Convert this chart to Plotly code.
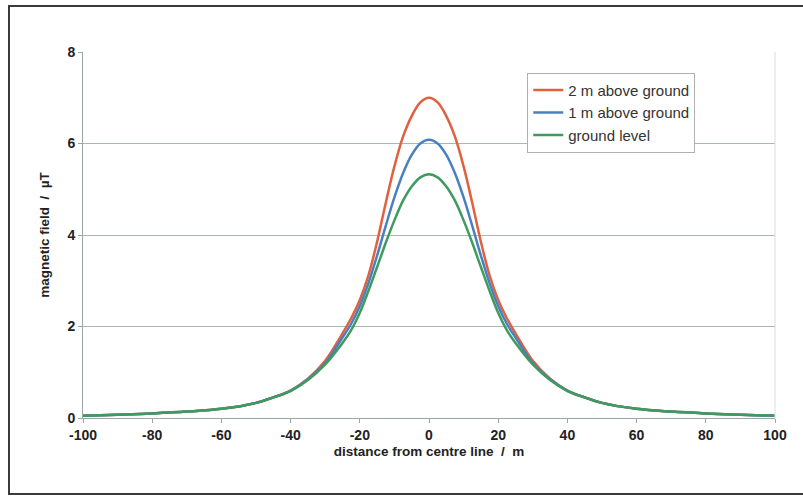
import plotly.graph_objects as go

distance = [-100, -90, -80, -70, -60, -50, -45, -40, -35, -30, -25, -22.5, -20, -17.5, -15, -12.5, -10, -7.5, -5, -2.5,
            0, 2.5, 5, 7.5, 10, 12.5, 15, 17.5, 20, 22.5, 25, 30, 35, 40, 45, 50, 60, 70, 80, 90, 100]

field_2m = [0.05, 0.07, 0.10, 0.14, 0.20, 0.33, 0.45, 0.60, 0.86, 1.25, 1.85, 2.18, 2.58, 3.12, 3.85, 4.70, 5.50, 6.15, 6.60, 6.90,
            7.00, 6.90, 6.60, 6.15, 5.50, 4.70, 3.85, 3.12, 2.58, 2.18, 1.85, 1.25, 0.86, 0.60, 0.45, 0.33, 0.20, 0.14, 0.10, 0.07, 0.05]

field_1m = [0.05, 0.07, 0.10, 0.14, 0.20, 0.33, 0.45, 0.60, 0.85, 1.20, 1.76, 2.06, 2.45, 2.95, 3.55, 4.20, 4.82, 5.35, 5.75, 6.00,
            6.08, 6.00, 5.75, 5.35, 4.82, 4.20, 3.55, 2.95, 2.45, 2.06, 1.76, 1.20, 0.85, 0.60, 0.45, 0.33, 0.20, 0.14, 0.10, 0.07, 0.05]

field_0m = [0.05, 0.07, 0.10, 0.14, 0.20, 0.33, 0.45, 0.59, 0.83, 1.17, 1.64, 1.92, 2.30, 2.78, 3.30, 3.83, 4.32, 4.75, 5.06, 5.26,
            5.33, 5.26, 5.06, 4.75, 4.32, 3.83, 3.30, 2.78, 2.30, 1.92, 1.64, 1.17, 0.83, 0.59, 0.45, 0.33, 0.20, 0.14, 0.10, 0.07, 0.05]

series = [
    ("2 m above ground", field_2m, "#e0603f"),
    ("1 m above ground", field_1m, "#4a7fc0"),
    ("ground level", field_0m, "#3f9a5e"),
]

x_ticks = [-100, -80, -60, -40, -20, 0, 20, 40, 60, 80, 100]
y_ticks = [0, 2, 4, 6, 8]

fig = go.Figure()
for name, vals, col in series:
    fig.add_trace(go.Scatter(x=distance, y=vals, name=name, mode="lines",
                             line=dict(color=col, width=2.5, shape="spline", smoothing=1.0)))

font_family = "Liberation Sans, Arial, sans-serif"
fig.update_layout(
    width=803, height=500,
    margin=dict(l=83, r=28, t=52, b=82),
    paper_bgcolor="white", plot_bgcolor="white",
    font=dict(family=font_family, size=12, color="#222"),
    showlegend=True,
    legend=dict(x=0.642, y=0.943, xanchor="left", yanchor="top",
                bgcolor="white", bordercolor="#b0b0b0", borderwidth=1,
                font=dict(size=15, color="#333"), tracegroupgap=0,
                itemwidth=30),
    xaxis=dict(range=[-100, 100], tickvals=x_ticks, ticktext=["<b>%d</b>" % v for v in x_ticks],
               showgrid=False, zeroline=False, showline=True, linecolor="#9aa6a6", linewidth=1,
               ticks="outside", ticklen=4, tickcolor="#9aa6a6",
               tickfont=dict(size=14, color="#222"),
               title=dict(text="<b>distance from centre line\u00a0 /\u00a0 m</b>", font=dict(size=13.5), standoff=4)),
    yaxis=dict(range=[0, 8], tickvals=y_ticks, ticktext=["<b>%d</b>" % v for v in y_ticks],
               showgrid=True, gridcolor="#a8b8b8", gridwidth=1, zeroline=False,
               showline=True, linecolor="#9aa6a6", linewidth=1,
               ticks="outside", ticklen=4, tickcolor="#9aa6a6",
               tickfont=dict(size=14, color="#222"),
               title=dict(text="<b>magnetic field\u00a0 /\u00a0 µT</b>", font=dict(size=13.5), standoff=14)),
)

# outer chart frame
fig.add_shape(type="rect", xref="paper", yref="paper",
              x0=(9 - 83) / 692, x1=(808 - 83) / 692,
              y0=(418 - 494) / 366, y1=(418 - 6) / 366,
              line=dict(color="#3a3a3a", width=2), fillcolor="rgba(0,0,0,0)", layer="below")
# right edge of plot area
fig.add_shape(type="line", xref="paper", yref="paper", x0=1, x1=1, y0=0, y1=1,
              line=dict(color="#d8dede", width=1))

fig.write_html("out.html")
